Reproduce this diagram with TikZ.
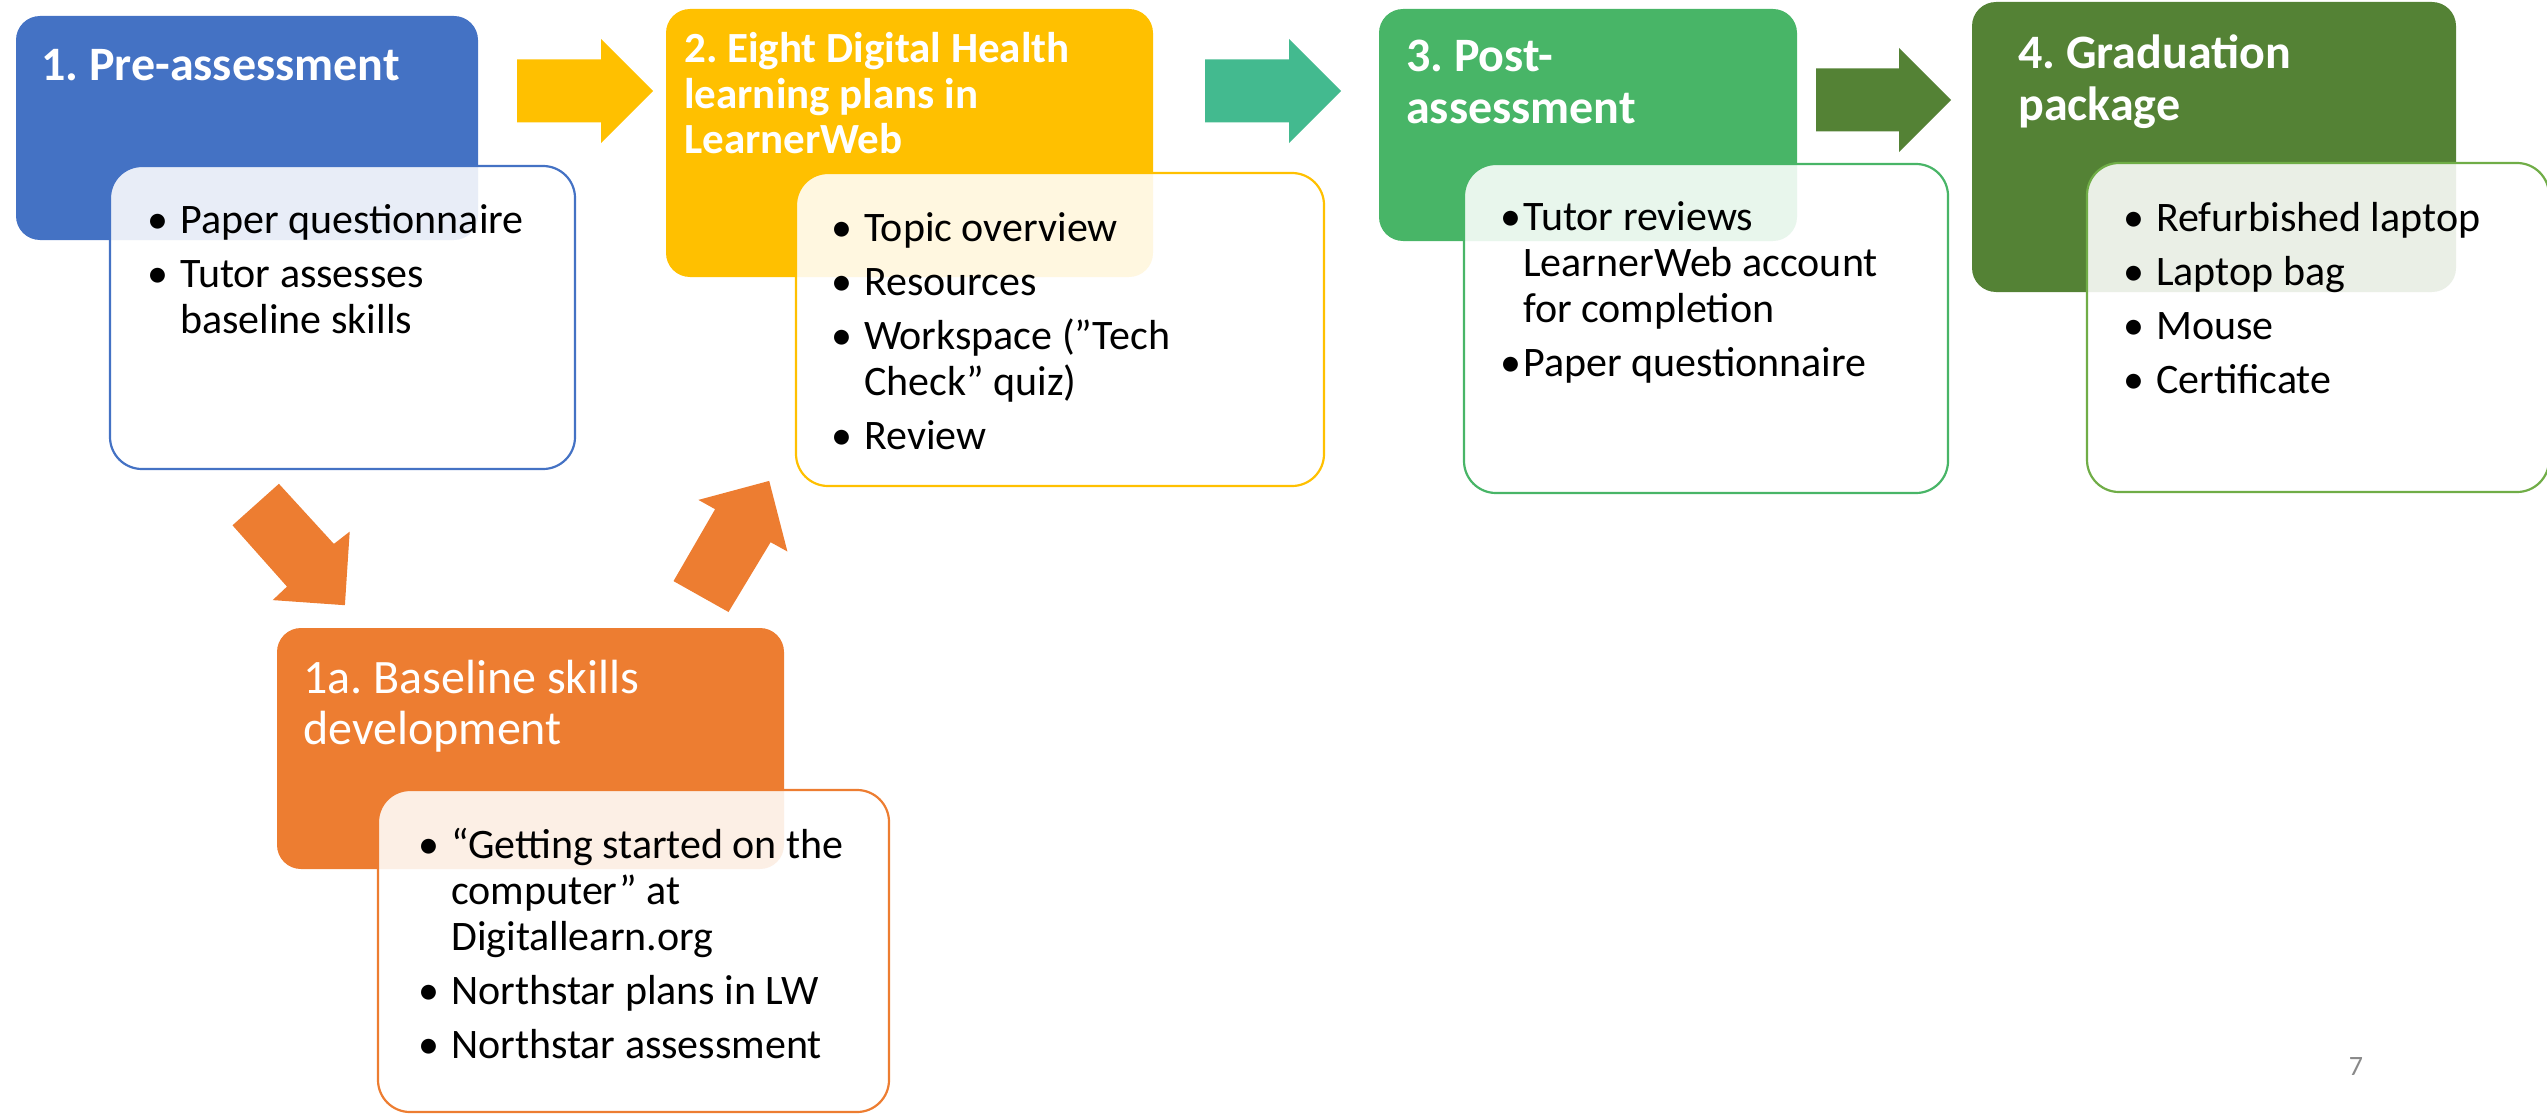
\documentclass[tikz,border=0pt]{standalone}
\usepackage{fontspec}
\setmainfont{Carlito}
\definecolor{cblue}{HTML}{4472C4}
\definecolor{cyellow}{HTML}{FFC000}
\definecolor{cteal}{HTML}{43BA8F}
\definecolor{cgreen}{HTML}{48B567}
\definecolor{cdkgreen}{HTML}{548235}
\definecolor{cltgreen}{HTML}{70AD47}
\definecolor{corange}{HTML}{ED7D31}
\definecolor{cgray}{HTML}{898989}
\frenchspacing
\newcommand\bitem[2][33pt]{\par\hangindent=#1\hangafter=1\noindent\makebox[#1][l]{\textbullet}#2\par}
\newcommand\blist[1]{\parbox[t]{900pt}{\frenchspacing\fontsize{42}{46}\selectfont\parskip=8pt\parindent=0pt #1}}
\newcommand\tbox[3]{\parbox[t]{800pt}{\frenchspacing\fontsize{#1}{#2}\selectfont #3}}
\begin{document}
\begin{tikzpicture}[x=1pt,y=-1pt,
  cbox/.style={draw=none, rounded corners=24pt, inner sep=0pt},
  wbox/.style={fill=white, fill opacity=0.88, line width=2.2pt, rounded corners=32pt, inner sep=0pt},
  ttl/.style={text=white, inner sep=0pt, anchor=base west},
  body/.style={text=black, inner sep=0pt, anchor=base west}
]
\path[use as bounding box] (0,0) rectangle (2547,1113);

% block arrows
\fill[cyellow] (517,59.5) -- (601,59.5) -- (601,39) -- (653,91) -- (601,143) -- (601,122.5) -- (517,122.5) -- cycle;
\fill[cteal] (1205,59.5) -- (1289,59.5) -- (1289,39) -- (1341,91) -- (1289,143) -- (1289,122.5) -- (1205,122.5) -- cycle;
\fill[cdkgreen] (1816,68.5) -- (1899,68.5) -- (1899,48) -- (1951,100) -- (1899,152) -- (1899,131.5) -- (1816,131.5) -- cycle;
\fill[corange] (232.5,525.3) -- (278.9,483.8) -- (333.9,543.9) -- (349.7,531.6) -- (344.9,605.2) -- (272.7,600.1) -- (287,586.6) -- cycle;
\fill[corange] (673.5,581.1) -- (715.1,509.2) -- (698.4,499.9) -- (769.2,480.9) -- (787.4,551.5) -- (770.6,542.2) -- (728.5,612) -- cycle;

% stage 1
\node[cbox, fill=cblue, minimum width=462pt, minimum height=224pt] (s1) at (247,128) {};
\node[ttl] (s1t) at (41,81) {\tbox{48}{52}{\bfseries 1. Pre-assessment}};
\node[wbox, draw=cblue, minimum width=465pt, minimum height=303pt] (w1) at (342.5,317.5) {};
\node[body] (w1t) at (147,233) {\blist{\bitem{Paper questionnaire}\bitem{Tutor assesses\newline baseline skills}}};

% stage 2
\node[cbox, fill=cyellow, minimum width=487pt, minimum height=268pt] (s2) at (909.5,143) {};
\node[ttl] (s2t) at (684,63) {\tbox{43}{45.5}{\bfseries 2. Eight Digital Health\\learning plans in\\LearnerWeb}};
\node[wbox, draw=cyellow, minimum width=528pt, minimum height=313pt] (w2) at (1060,329.5) {};
\node[body] (w2t) at (831,241) {\blist{\bitem{Topic overview}\bitem{Resources}\bitem{Workspace (”Tech\newline Check” quiz)}\bitem{Review}}};

% stage 3
\node[cbox, fill=cgreen, minimum width=418pt, minimum height=232pt] (s3) at (1588,125) {};
\node[ttl] (s3t) at (1406,72) {\tbox{48}{52}{\bfseries 3. Post-\\assessment}};
\node[wbox, draw=cgreen, minimum width=484pt, minimum height=329pt] (w3) at (1706,328.5) {};
\node[body] (w3t) at (1500,230) {\blist{\bitem[23pt]{Tutor reviews\newline LearnerWeb account\newline for completion}\bitem[23pt]{Paper questionnaire}}};

% stage 4
\node[cbox, fill=cdkgreen, minimum width=484pt, minimum height=290pt] (s4) at (2214,147) {};
\node[ttl] (s4t) at (2018,69) {\tbox{48}{52}{\bfseries 4. Graduation\\package}};
\node[wbox, draw=cltgreen, minimum width=462pt, minimum height=329pt] (w4) at (2318,327.5) {};
\node[body] (w4t) at (2123,231) {\blist{\bitem{Refurbished laptop}\bitem{Laptop bag}\bitem{Mouse}\bitem{Certificate}}};

% stage 1a
\node[cbox, fill=corange, minimum width=507pt, minimum height=241pt] (s1a) at (530.5,748.5) {};
\node[ttl] (s1at) at (303,693) {\tbox{48}{51}{1a. Baseline skills\\development}};
\node[wbox, draw=corange, minimum width=511pt, minimum height=322pt] (w1a) at (633.5,951) {};
\node[body] (w1at) at (418,858) {\blist{\bitem{“Getting started on the\newline computer” at\newline Digitallearn.org}\bitem{Northstar plans in LW}\bitem{Northstar assessment}}};

% page number
\node[text=cgray, font=\fontsize{28}{30}\selectfont, inner sep=0pt] (pg) at (2356,1067) {7};
\end{tikzpicture}
\end{document}
